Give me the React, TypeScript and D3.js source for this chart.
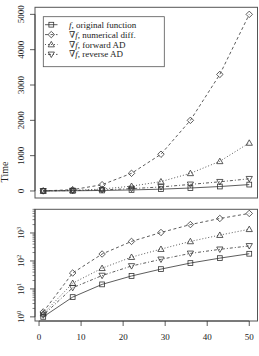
import React from 'react';
import * as d3 from 'd3';

// problem sizes on the x axis
const sizes = [1, 8, 15, 22, 29, 36, 43, 50];

// timings per method
const original = [1.0, 5.1, 14.5, 29, 51, 84, 126, 181];
const numerical = [1.5, 37, 177, 500, 1040, 2000, 3300, 5000];
const forward = [1.3, 16, 55, 137, 265, 500, 840, 1360];
const reverse = [1.15, 11, 30, 66, 114, 186, 260, 345];

const linearTicks = [0, 1000, 2000, 3000, 4000, 5000];
const logTicks = [1, 10, 100, 1000];
const xTicks = [0, 10, 20, 30, 40, 50];

const series = [
  { name: 'original function', grad: false, values: original, dash: 'none', shape: 'square' },
  { name: 'numerical diff.', grad: true, values: numerical, dash: '3,2.5', shape: 'diamond' },
  { name: 'forward AD', grad: true, values: forward, dash: '1,2', shape: 'up' },
  { name: 'reverse AD', grad: true, values: reverse, dash: '1,2,3,2', shape: 'down' },
];

const W = 259;
const H = 356;
const left = 35;
const right = 257.5;
const top1 = 7.3, bottom1 = 198;
const top2 = 209.3, bottom2 = 321;
const ink = '#333';
const frame = '#555';
const font = "'Liberation Serif', 'DejaVu Serif', serif";

// R-style 4% padding around the data range
function pad([a, b]: [number, number]): [number, number] {
  const d = (b - a) * 0.04;
  return [a - d, b + d];
}

const all = series.flatMap((s) => s.values);
const x = d3.scaleLinear().domain(pad(d3.extent(sizes) as [number, number])).range([left, right]);
const yLin = d3.scaleLinear().domain(pad(d3.extent(all) as [number, number])).range([bottom1, top1]);
const logExt = pad(d3.extent(all).map((v) => Math.log10(v as number)) as [number, number]);
const yLog = d3.scaleLog().domain([10 ** logExt[0], 10 ** logExt[1]]).range([bottom2, top2]);

const minorTicks: number[] = [];
for (let e = 0; e < 4; e++) {
  for (let m = 2; m <= 9; m++) {
    const v = m * 10 ** e;
    if (v <= yLog.domain()[1]) minorTicks.push(v);
  }
}

function Marker({ shape, cx, cy }: { shape: string; cx: number; cy: number }) {
  const r = 2.4;
  const common = { fill: 'none', stroke: ink, strokeWidth: 0.8 };
  if (shape === 'square') return <rect x={cx - r} y={cy - r} width={2 * r} height={2 * r} {...common} />;
  if (shape === 'diamond') {
    const d = r * 1.35;
    return <path d={`M${cx},${cy - d}L${cx + d},${cy}L${cx},${cy + d}L${cx - d},${cy}Z`} {...common} />;
  }
  const s = r * 1.3;
  if (shape === 'up')
    return <path d={`M${cx},${cy - s}L${cx + s},${cy + s * 0.75}L${cx - s},${cy + s * 0.75}Z`} {...common} />;
  return <path d={`M${cx},${cy + s}L${cx + s},${cy - s * 0.75}L${cx - s},${cy - s * 0.75}Z`} {...common} />;
}

function Panel({ y }: { y: (v: number) => number }) {
  const line = d3.line<number>().x((_, i) => x(sizes[i])).y((v) => y(v));
  return (
    <g>
      {series.map((s) => (
        <g key={s.name}>
          <path d={line(s.values) ?? ''} fill="none" stroke={ink} strokeWidth={0.8} strokeDasharray={s.dash} />
          {s.values.map((v, i) => (
            <Marker key={i} shape={s.shape} cx={x(sizes[i])} cy={y(v)} />
          ))}
        </g>
      ))}
    </g>
  );
}

export default function App() {
  const labelX = 24;
  return (
    <svg width={W} height={H} style={{ position: 'absolute', left: 0, top: 0, background: '#fff', fontFamily: font, fontSize: 9 }}>
      {/* top panel: linear time */}
      <rect x={left} y={top1} width={right - left} height={bottom1 - top1} fill="none" stroke={frame} strokeWidth={1} />
      <line x1={left} x2={left} y1={yLin(linearTicks[0])} y2={yLin(linearTicks[linearTicks.length - 1])} stroke={ink} strokeWidth={0.8} />
      {linearTicks.map((t) => (
        <g key={t}>
          <line x1={left - 5} x2={left} y1={yLin(t)} y2={yLin(t)} stroke={ink} strokeWidth={0.8} />
          <text transform={`translate(${labelX},${yLin(t)}) rotate(-90)`} textAnchor="middle" fill="#222">{t}</text>
        </g>
      ))}
      <Panel y={yLin} />

      {/* legend */}
      <rect x={43.3} y={16.7} width={121} height={50} fill="#fff" stroke={frame} strokeWidth={0.8} />
      {series.map((s, i) => {
        const cy = 24.7 + i * 9.9;
        return (
          <g key={s.name}>
            <line x1={45} x2={57.5} y1={cy} y2={cy} stroke={ink} strokeWidth={0.8} strokeDasharray={s.dash} />
            <Marker shape={s.shape} cx={51.3} cy={cy} />
            <text x={69} y={cy + 3} fill="#222">
              {s.grad ? '∇' : ''}
              <tspan fontStyle="italic">f</tspan>, {s.name}
            </text>
          </g>
        );
      })}

      <text transform={`translate(8,172) rotate(-90)`} textAnchor="middle" fill="#222" fontSize={10}>Time</text>

      {/* bottom panel: log time */}
      <rect x={left} y={top2} width={right - left} height={bottom2 - top2} fill="none" stroke={frame} strokeWidth={1} />
      <line x1={left} x2={left} y1={yLog(1)} y2={yLog(minorTicks[minorTicks.length - 1])} stroke={ink} strokeWidth={0.8} />
      {minorTicks.map((t) => (
        <line key={t} x1={left - 2.5} x2={left} y1={yLog(t)} y2={yLog(t)} stroke={ink} strokeWidth={0.6} />
      ))}
      {logTicks.map((t, i) => (
        <g key={t}>
          <line x1={left - 5} x2={left} y1={yLog(t)} y2={yLog(t)} stroke={ink} strokeWidth={0.8} />
          <text transform={`translate(${labelX},${yLog(t)}) rotate(-90)`} textAnchor="middle" fill="#222">
            10<tspan fontSize={6.5} dy={-3.5}>{i}</tspan>
          </text>
        </g>
      ))}
      <Panel y={yLog} />

      {/* shared x axis */}
      <line x1={x(xTicks[0])} x2={x(xTicks[xTicks.length - 1])} y1={bottom2} y2={bottom2} stroke={ink} strokeWidth={0.8} />
      {xTicks.map((t) => (
        <g key={t}>
          <line x1={x(t)} x2={x(t)} y1={bottom2} y2={bottom2 + 5} stroke={ink} strokeWidth={0.8} />
          <text x={x(t)} y={340} textAnchor="middle" fill="#222">{t}</text>
        </g>
      ))}
    </svg>
  );
}
